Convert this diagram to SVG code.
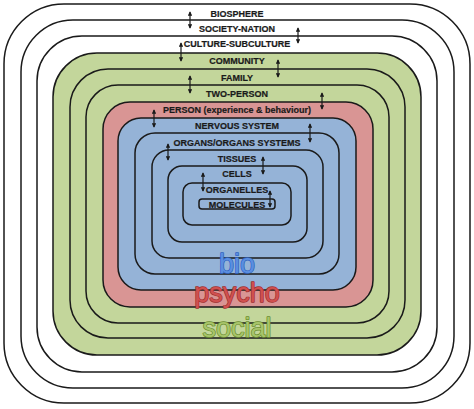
<svg xmlns="http://www.w3.org/2000/svg" width="474" height="409" viewBox="0 0 474 409">
<style>
.b{stroke:#1a1a1a;stroke-width:1.5}
.w{fill:#ffffff}
.g{fill:#c3d69b}
.r{fill:#d99594}
.u{fill:#95b3d7}
.t{font-family:"Liberation Sans",Arial,sans-serif;font-weight:bold;font-size:9px;fill:#1a1a1a;stroke:#1a1a1a;stroke-width:0.2;text-anchor:middle}
.big{font-family:"Liberation Sans",Arial,sans-serif;font-size:27px;text-anchor:middle;stroke-width:1.4;paint-order:stroke;stroke-linejoin:round}
.a{stroke:#1a1a1a;stroke-width:1.2;fill:none;marker-start:url(#h);marker-end:url(#h)}
</style>
<defs>
<marker id="h" viewBox="0 0 6 6" refX="5" refY="3" markerWidth="3.8" markerHeight="3.8" orient="auto-start-reverse">
<path d="M0,0 L6,3 L0,6 Z" fill="#1a1a1a"/>
</marker>
</defs>
<g id="biosphere"><rect class="b w" x="4" y="4" width="466" height="399" rx="60"/><text class="t" x="237" y="17.2">BIOSPHERE</text></g>
<g id="society-nation"><rect class="b w" x="21" y="20" width="433" height="368" rx="52"/><text class="t" x="237" y="32.2">SOCIETY-NATION</text></g>
<g id="culture-subculture"><rect class="b w" x="37" y="36" width="400" height="336" rx="45"/><text class="t" x="237" y="47.2">CULTURE-SUBCULTURE</text></g>
<g id="community"><rect class="b g" x="53" y="53" width="368" height="302" rx="44"/><text class="t" x="237" y="64.2">COMMUNITY</text></g>
<g id="family"><rect class="b g" x="70" y="69" width="335" height="269" rx="38"/><text class="t" x="237" y="81.2">FAMILY</text></g>
<g id="two-person"><rect class="b g" x="86" y="85" width="303" height="238" rx="32"/><text class="t" x="237" y="97.2">TWO-PERSON</text></g>
<g id="person"><rect class="b r" x="103" y="102" width="270" height="205" rx="27"/><text class="t" x="237" y="113.2">PERSON (experience &amp; behaviour)</text></g>
<g id="nervous-system"><rect class="b u" x="118" y="118" width="238" height="172" rx="23"/><text class="t" x="237" y="129.2">NERVOUS SYSTEM</text></g>
<g id="organs"><rect class="b u" x="135" y="133" width="204" height="141" rx="20"/><text class="t" x="237" y="146.2">ORGANS/ORGANS SYSTEMS</text></g>
<g id="tissues"><rect class="b u" x="152" y="150" width="171" height="108" rx="17"/><text class="t" x="237" y="162.2">TISSUES</text></g>
<g id="cells"><rect class="b u" x="168" y="166" width="139" height="76" rx="14"/><text class="t" x="237" y="177.2">CELLS</text></g>
<g id="organelles"><rect class="b u" x="183" y="183" width="108" height="42" rx="9"/><text class="t" x="237" y="193.2">ORGANELLES</text></g>
<g id="molecules"><rect class="b u" x="199" y="199" width="76" height="10" rx="3"/><text class="t" x="237" y="207.5">MOLECULES</text></g>
<g id="connectors">
<line class="a" x1="190" y1="12" x2="190" y2="28"/>
<line class="a" x1="298" y1="28" x2="298" y2="43"/>
<line class="a" x1="181" y1="43" x2="181" y2="61"/>
<line class="a" x1="278" y1="60" x2="278" y2="77"/>
<line class="a" x1="190" y1="76" x2="190" y2="93"/>
<line class="a" x1="322" y1="93" x2="322" y2="109"/>
<line class="a" x1="154" y1="110" x2="154" y2="127"/>
<line class="a" x1="310" y1="124" x2="310" y2="142"/>
<line class="a" x1="168" y1="144" x2="168" y2="160"/>
<line class="a" x1="263" y1="157" x2="263" y2="174"/>
<line class="a" x1="203" y1="173" x2="203" y2="191"/>
<line class="a" x1="270" y1="191" x2="270" y2="207"/>
</g>
<g id="labels">
<text class="big" x="237" y="273" fill="#5b8ee0" stroke="#2f63c0">bio</text>
<text class="big" x="237" y="302" fill="#d0504f" stroke="#a0302f">psycho</text>
<text class="big" x="237" y="337" fill="#a7c46a" stroke="#6b8d2e">social</text>
</g>
</svg>
